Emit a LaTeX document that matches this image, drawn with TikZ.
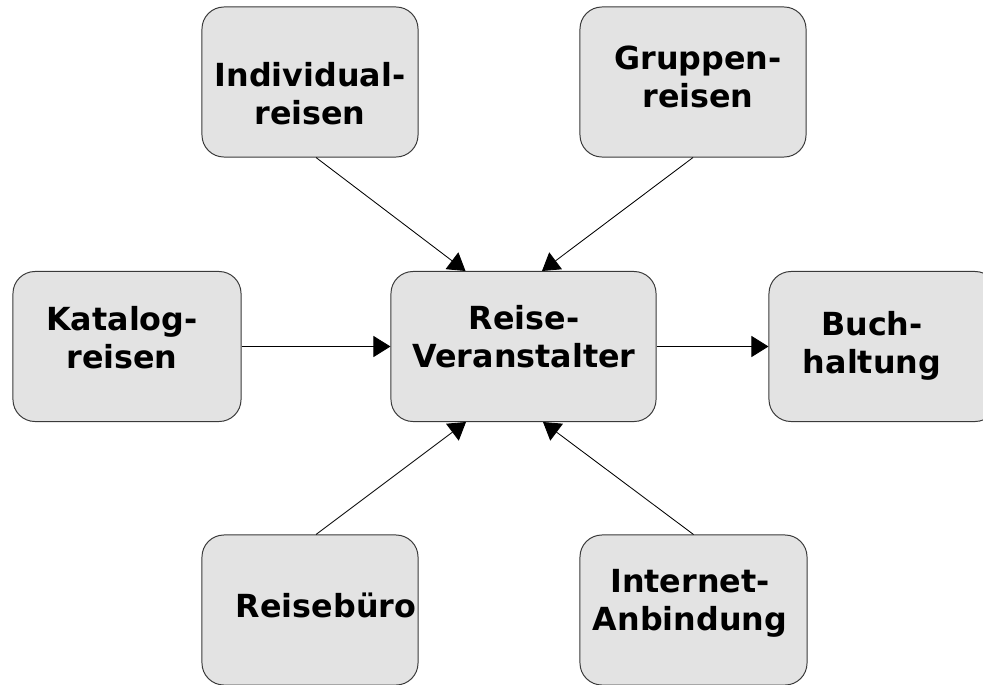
\documentclass[tikz,border=0pt]{standalone}
\usepackage{fontspec}
\setmainfont{DejaVu Sans}
\usetikzlibrary{arrows.meta,calc}
\definecolor{boxgray}{HTML}{E3E3E3}
\definecolor{boxline}{HTML}{3A3A3A}

\begin{document}
\begin{tikzpicture}[x=0.025cm,y=-0.025cm,
	box/.style={draw=boxline,fill=boxgray,rounded corners=0.55cm,line width=0.7pt,
		inner sep=0pt,minimum height=3.75cm},
	boxtext/.style={anchor=north,inner sep=0pt,align=center,
		font=\bfseries\fontsize{22.6}{26.8}\selectfont},
	arr/.style={-{Triangle[length=4.25mm,width=5.25mm]},line width=0.6pt}]
	\clip (0,0) rectangle (983,684);

	% boxes
	\node[box,minimum width=5.4cm] (indiv) at (310,82) {};
	\node[box,minimum width=5.65cm] (grupp) at (693,82) {};
	\node[box,minimum width=5.7cm] (katalog) at (127,346.5) {};
	\node[box,minimum width=6.625cm] (veranst) at (523.5,346.5) {};
	\node[box,minimum width=5.7cm] (buch) at (883,346.5) {};
	\node[box,minimum width=5.4cm] (buero) at (310,610) {};
	\node[box,minimum width=5.675cm] (internet) at (693.5,610) {};

	% texts
	\node[boxtext] (indiv-t) at (310,62) {Individual-\\reisen};
	\node[boxtext] (grupp-t) at (698,46) {Gruppen-\\reisen};
	\node[boxtext] (katalog-t) at (122,306) {Katalog-\\reisen};
	\node[boxtext] (veranst-t) at (524,305) {Reise-\\Veranstalter};
	\node[boxtext] (buch-t) at (872,311) {Buch-\\haltung};
	\node[boxtext] (buero-t) at (326,593) {Reisebüro};
	\node[boxtext] (internet-t) at (690,569) {Internet-\\Anbindung};

	% arrows
	\draw[arr] ($(indiv.south)+(6,0)$) -- ($(veranst.north)+(-58,0)$);
	\draw[arr] (grupp.south) -- ($(veranst.north)+(18.5,0)$);
	\draw[arr] (katalog.east) -- (veranst.west);
	\draw[arr] (veranst.east) -- (buch.west);
	\draw[arr] ($(buero.north)+(6,0)$) -- ($(veranst.south)+(-57.5,0)$);
	\draw[arr] (internet.north) -- ($(veranst.south)+(19.5,0)$);
\end{tikzpicture}
\end{document}
